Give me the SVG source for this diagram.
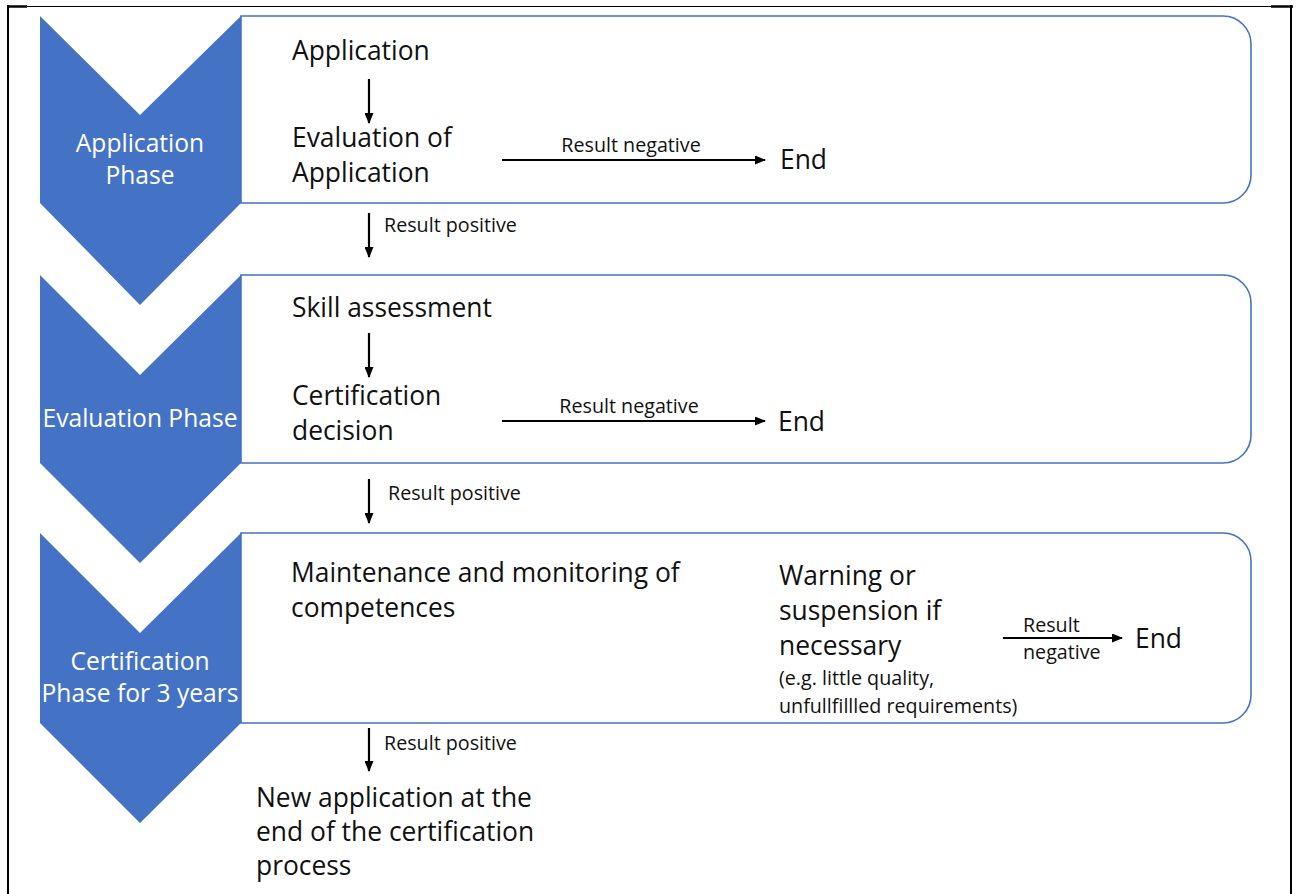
<svg xmlns="http://www.w3.org/2000/svg" width="1298" height="894" viewBox="0 0 1298 894">
<defs>
<marker id="ah" markerWidth="11" markerHeight="9" refX="10" refY="4.5" orient="auto" markerUnits="userSpaceOnUse">
<path d="M0,0 L11,4.5 L0,9 Z" fill="#000"/>
</marker>
<style>
.chev{fill:#4472C4;}
.box{fill:#fff;stroke:#4472C4;stroke-width:1.6;}
.t{font-family:"Open Sans","Liberation Sans",sans-serif;font-size:26.4px;fill:#111;}
.s{font-family:"Open Sans","Liberation Sans",sans-serif;font-size:19.7px;fill:#111;}
.w{font-family:"Open Sans","Liberation Sans",sans-serif;font-size:24.6px;fill:#fff;text-anchor:middle;}
.c{stroke:#000;stroke-width:2.2;fill:none;marker-end:url(#ah);}
</style>
</defs>
<rect width="1298" height="894" fill="#fff"/>
<g id="frame" stroke="#000" fill="none">
<line x1="8" y1="6.5" x2="1292" y2="6.5" stroke-width="1"/>
<line x1="7" y1="6.5" x2="27" y2="6.5" stroke-width="2.5"/>
<line x1="1271" y1="6.5" x2="1293" y2="6.5" stroke-width="2.5"/>
<line x1="8" y1="5" x2="8" y2="894" stroke-width="2"/>
<line x1="1291" y1="5" x2="1291" y2="894" stroke-width="2"/>
</g>
<g id="box1">
<path class="box" d="M241,16 H1223 A28,28 0 0 1 1251,44 V175 A28,28 0 0 1 1223,203 H241 Z"/>
</g>
<g id="box2">
<path class="box" d="M241,275 H1223 A28,28 0 0 1 1251,303 V435 A28,28 0 0 1 1223,463 H241 Z"/>
</g>
<g id="box3">
<path class="box" d="M241,533 H1223 A28,28 0 0 1 1251,561 V695 A28,28 0 0 1 1223,723 H241 Z"/>
</g>
<g id="phase1">
<polygon class="chev" points="40,16 140,115 241,16 241,203 140,305 40,203"/>
<text class="w" x="140" y="152">Application</text>
<text class="w" x="140" y="184">Phase</text>
</g>
<g id="phase2">
<polygon class="chev" points="40,275 140,375 241,275 241,463 140,563 40,463"/>
<text class="w" x="140" y="427">Evaluation Phase</text>
</g>
<g id="phase3">
<polygon class="chev" points="40,533 140,633 241,533 241,723 140,823 40,723"/>
<text class="w" x="140" y="670">Certification</text>
<text class="w" x="140" y="702">Phase for 3 years</text>
</g>
<g id="n-application"><text class="t" x="292" y="60">Application</text></g>
<g id="n-evaluation"><text class="t" x="292" y="147">Evaluation of</text><text class="t" x="292" y="182">Application</text></g>
<g id="n-end1"><text class="t" x="780" y="169">End</text></g>
<g id="n-skill"><text class="t" x="292" y="317">Skill assessment</text></g>
<g id="n-decision"><text class="t" x="292" y="405">Certification</text><text class="t" x="292" y="440">decision</text></g>
<g id="n-end2"><text class="t" x="778" y="431">End</text></g>
<g id="n-maintenance"><text class="t" x="291" y="582">Maintenance and monitoring of</text><text class="t" x="291" y="617">competences</text></g>
<g id="n-warning">
<text class="t" x="779" y="585">Warning or</text>
<text class="t" x="779" y="620">suspension if</text>
<text class="t" x="779" y="655">necessary</text>
<text class="s" x="779" y="685">(e.g. little quality,</text>
<text class="s" x="779" y="713">unfullfillled requirements)</text>
</g>
<g id="n-end3"><text class="t" x="1135" y="648">End</text></g>
<g id="n-new">
<text class="t" x="256" y="807">New application at the</text>
<text class="t" x="256" y="841">end of the certification</text>
<text class="t" x="256" y="875">process</text>
</g>
<g id="connectors">
<line class="c" x1="369" y1="79" x2="369" y2="123"/>
<line class="c" x1="502" y1="160" x2="765" y2="160"/>
<text class="s" x="631" y="152" text-anchor="middle">Result negative</text>
<line class="c" x1="369" y1="213" x2="369" y2="257"/>
<text class="s" x="384" y="232">Result positive</text>
<line class="c" x1="369" y1="333" x2="369" y2="377"/>
<line class="c" x1="502" y1="421" x2="765" y2="421"/>
<text class="s" x="629" y="413" text-anchor="middle">Result negative</text>
<line class="c" x1="369" y1="479" x2="369" y2="523"/>
<text class="s" x="388" y="500">Result positive</text>
<line class="c" x1="1003" y1="638" x2="1122" y2="638"/>
<text class="s" x="1023" y="632">Result</text>
<text class="s" x="1023" y="659">negative</text>
<line class="c" x1="369" y1="728" x2="369" y2="771"/>
<text class="s" x="384" y="750">Result positive</text>
</g>
</svg>
